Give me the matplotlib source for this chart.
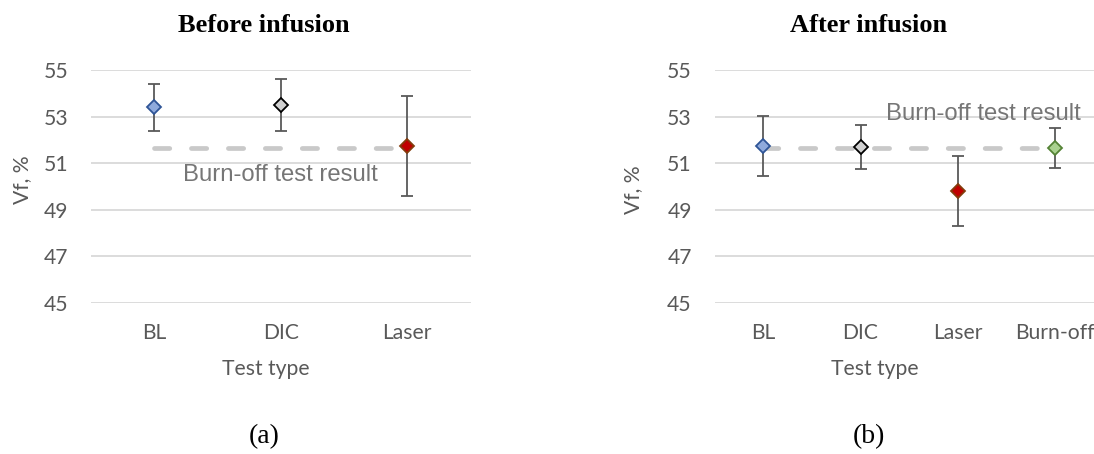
import matplotlib
matplotlib.use("Agg")
import matplotlib.pyplot as plt

# data
before_types = ["BL", "DIC", "Laser"]
before_vf = [53.4, 53.5, 51.73]
before_err = [1.0, 1.1, 2.15]

after_types = ["BL", "DIC", "Laser", "Burn-off"]
after_vf = [51.73, 51.68, 49.81, 51.65]
after_err = [1.29, 0.95, 1.5, 0.86]

burnoff_vf = 51.64
yticks = [45, 47, 49, 51, 53, 55]

fills = {"BL": "#8FAADC", "DIC": "#D0D0D0", "Laser": "#C00000", "Burn-off": "#A9D18E"}
edges = {"BL": "#2F5597", "DIC": "#000000", "Laser": "#843C0C", "Burn-off": "#548235"}

TXT = "#595959"
LBL = 15.2
plt.rcParams["lines.scale_dashes"] = False

fig = plt.figure(figsize=(10.94, 4.54), dpi=100)
W, H = 1094, 454


def make_axes(left_px, width_px):
    return fig.add_axes([left_px / W, (H - 302.7) / H, width_px / W, 232.7 / H])


def draw_panel(ax, types, vf, err, text_xy):
    x = list(range(len(types)))
    ax.set_xlim(-0.5, len(types) - 0.5)
    ax.set_ylim(45, 55)
    ax.set_yticks(yticks)
    ax.set_xticks(x)
    ax.set_xticklabels(types)
    for s in ax.spines.values():
        s.set_visible(False)
    ax.tick_params(length=0, labelcolor=TXT, labelsize=LBL)
    ax.tick_params(axis="y", pad=16.5)
    ax.tick_params(axis="x", pad=14.5)
    for lab in ax.get_xticklabels() + ax.get_yticklabels():
        lab.set_family("Lato")
    ax.grid(axis="y", color="#D9D9D9", lw=1.3, zorder=0)
    ax.set_axisbelow(True)

    # burn-off reference line
    ax.plot([x[0], x[-1]], [burnoff_vf, burnoff_vf], color="#C9C9C9", lw=3.4,
            dashes=(11, 15.6), dash_capstyle="round", zorder=2, clip_on=False)
    ax.errorbar(x, vf, yerr=err, fmt="none", ecolor="#595959", elinewidth=1.3,
                capsize=4.4, capthick=1.3, zorder=3)
    for xi, t, v in zip(x, types, vf):
        ax.plot(xi, v, marker="D", ms=7.2, mfc=fills[t], mec=edges[t], mew=1.3,
                zorder=4, clip_on=False)
    ax.text(text_xy[0], text_xy[1], "Burn-off test result", color="#767676",
            fontsize=17.2, family="Liberation Sans", ha="center", va="center",
            zorder=5)


ax1 = make_axes(91, 379.5)
draw_panel(ax1, before_types, before_vf, before_err, (1.0, 50.47))

ax2 = make_axes(714.7, 388.8)
draw_panel(ax2, after_types, after_vf, after_err, (2.26, 53.1))

# titles, axis titles and panel letters
for cx, title, letter, ylx, yly, xlx in [(264, "Before infusion", "(a)", 21.7, 180, 265.5),
                                         (868.7, "After infusion", "(b)", 633.3, 190, 875)]:
    fig.text(cx / W, 1 - 25 / H, title, ha="center", va="center", fontsize=19,
             fontweight="bold", family="Liberation Serif")
    fig.text(cx / W, 1 - 437 / H, letter, ha="center", va="center", fontsize=20,
             family="Liberation Serif")
    fig.text(ylx / W, 1 - yly / H, "Vf, %", rotation=90, ha="center", va="center",
             fontsize=LBL, family="Lato", color=TXT)
    fig.text(xlx / W, 1 - 369 / H, "Test type", ha="center", va="center",
             fontsize=LBL, family="Lato", color=TXT)

fig.savefig("out.png", dpi=100)
